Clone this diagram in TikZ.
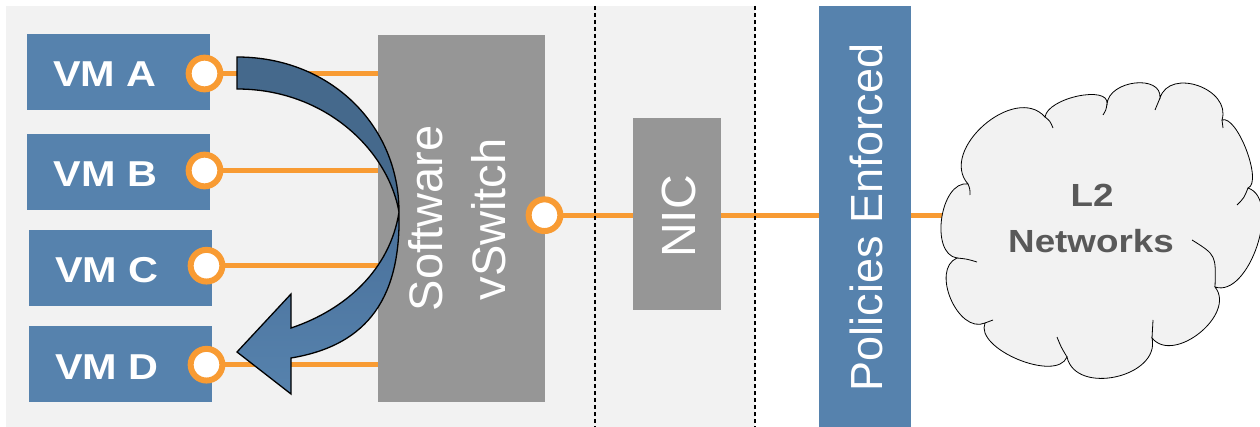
\documentclass[tikz,border=0pt]{standalone}
\usepackage{fontspec}
\setmainfont{Liberation Sans}
\newfontfamily\boldwide{Liberation Sans}[FakeStretch=1.15]

\definecolor{vmblue}{HTML}{5682AD}
\definecolor{darkband}{HTML}{45698C}
\definecolor{midband}{HTML}{4A719B}
\definecolor{boxgray}{HTML}{969696}
\definecolor{panel}{HTML}{F2F2F2}
\definecolor{wireorange}{HTML}{F89B33}
\definecolor{cloudtext}{HTML}{595959}

\pgfdeclarelayer{back}
\pgfdeclarelayer{wires}
\pgfsetlayers{back,wires,main}

\begin{document}
\begin{tikzpicture}[x=1pt,y=-1pt,
  vmbox/.style={fill=vmblue, minimum width=183pt, minimum height=76pt, inner sep=0pt},
  vmlabel/.style={text=white, font=\boldwide\bfseries\fontsize{36}{40}\selectfont, anchor=base, inner sep=0pt},
  graybox/.style={fill=boxgray, inner sep=0pt},
  port/.style={circle, draw=wireorange, line width=6pt, fill=white, minimum size=31.7pt, inner sep=0pt},
  wire/.style={draw=wireorange, line width=5pt},
  vtext/.style={rotate=90, anchor=base, text=white, inner sep=0pt},
  divider/.style={dash pattern=on 4pt off 3pt, line width=1.4pt},
  band/.style={draw=black, line width=1.3pt},
  cloudline/.style={draw=black, line width=0.8pt},
  cloudlabel/.style={text=cloudtext, font=\boldwide\bfseries\fontsize{32}{40}\selectfont, anchor=base, inner sep=0pt},
]
\useasboundingbox (0,0) rectangle (1260,427);

% host panel
\begin{pgfonlayer}{back}
  \fill[panel] (6,6) rectangle (755,427);
\end{pgfonlayer}

% boundaries
\draw[divider] (595,6) -- (595,427);
\draw[divider] (755,6) -- (755,427);

% virtual machines
\node[vmbox] (vmA) at (118.5,72) {};
\node[vmbox] (vmB) at (118.5,172) {};
\node[vmbox] (vmC) at (120,268) {};
\node[vmbox] (vmD) at (120,364) {};
\node[vmlabel] (tA) at (105,87) {VM A};
\node[vmlabel] (tB) at (105.5,187) {VM B};
\node[vmlabel] (tC) at (107,283) {VM C};
\node[vmlabel] (tD) at (107,379) {VM D};

% software switch
\node[graybox, minimum width=167pt, minimum height=367pt] (sw) at (461.5,218.5) {};
\node[vtext, font=\fontsize{47}{50}\selectfont] (swT1) at (442,218.5) {Software};
\node[vtext, font=\fontsize{47}{50}\selectfont] (swT2) at (505,219.5) {vSwitch};

% NIC
\node[graybox, minimum width=88pt, minimum height=192pt] (nic) at (677,214) {};
\node[vtext, font=\fontsize{48}{50}\selectfont] (nicT) at (695,216.5) {NIC};

% policy enforcement point
\node[fill=vmblue, minimum width=92pt, minimum height=421pt, inner sep=0pt] (pol) at (865,216.5) {};
\node[vtext, font=\fontsize{45}{50}\selectfont] (polT) at (882,217.5) {Policies Enforced};

% external network: cloud outline made of puffs
\node[minimum width=316pt, minimum height=294pt, inner sep=0pt] (net) at (1100,230) {};
\path[cloudline, fill=panel]
  (968,184)  .. controls (938,150)    and (1015,83)    .. (1045,117)
             .. controls (1047.7,97.7) and (1109.7,84.7) .. (1107,104)
             .. controls (1109,80)    and (1162,74)    .. (1160,98)
             .. controls (1169.7,67)  and (1231.7,89)  .. (1222,120)
             .. controls (1237,114.3) and (1263,182.3) .. (1248,188)
             .. controls (1282,199.4) and (1249,298.4) .. (1215,287)
             .. controls (1236.8,314) and (1173.8,365) .. (1152,338)
             .. controls (1160.7,377) and (1075.7,396) .. (1067,357)
             .. controls (1056.3,382.9) and (974.3,348.9) .. (985,323)
             .. controls (958.1,334.6) and (930.1,269.6) .. (957,258)
             .. controls (929.3,253.9) and (940.3,179.9) .. (968,184)
  -- cycle;
% inner folds between puffs
\draw[cloudline] (968,184) .. controls (970,189) .. (970,195);
\draw[cloudline] (1045,117) .. controls (1050,121) .. (1053,128);
\draw[cloudline] (1107,104) .. controls (1106,110) .. (1103,115);
\draw[cloudline] (1160,98) .. controls (1157,104) .. (1155,110);
\draw[cloudline] (1222,120) .. controls (1223,124) .. (1223,128);
\draw[cloudline] (1248,188) .. controls (1244,198) .. (1237,205);
\draw[cloudline] (1215,287) .. controls (1216,255) .. (1192,240);
\draw[cloudline] (1152,338) .. controls (1153,329) .. (1153,320);
\draw[cloudline] (1067,357) .. controls (1061,347) .. (1057,337);
\draw[cloudline] (985,323) .. controls (989,321) .. (993,320);
\draw[cloudline] (957,258) .. controls (967,259) .. (977,262);
\node[cloudlabel] (netT1) at (1092,207) {L2};
\node[cloudlabel] (netT2) at (1091,253) {Networks};

% ports
\node[port] (pA) at (204.5,73.5) {};
\node[port] (pB) at (204.5,170.5) {};
\node[port] (pC) at (206.5,265.7) {};
\node[port] (pD) at (206.5,364.7) {};
\node[port] (pS) at (544.5,215.2) {};

% links
\begin{pgfonlayer}{wires}
  \draw[wire] (pA) -- (pA -| sw.west);
  \draw[wire] (pB) -- (pB -| sw.west);
  \draw[wire] (pC) -- (pC -| sw.west);
  \draw[wire] (pD) -- (pD -| sw.west);
  \draw[wire] (pS) -- (pS -| nic.west);
  \draw[wire] (pS -| nic.east) -- (pS -| pol.west);
  \draw[wire] (pS -| pol.east) -- (pS -| net.center);
\end{pgfonlayer}

% VM A to VM D traffic hairpinning through the switch
\filldraw[band, fill=darkband]
  (237,57) .. controls (330,57) and (399,125) .. (399,212)
  .. controls (388,150) and (325,89) .. (237,89) -- cycle;
\shadedraw[band, top color=midband, bottom color=vmblue]
  (399,212) .. controls (401,295) and (370,345) .. (291,358)
  -- (291,394) -- (237,352) -- (291,294) -- (291,328)
  .. controls (345,310) and (390,270) .. (399,212) -- cycle;
\end{tikzpicture}
\end{document}
